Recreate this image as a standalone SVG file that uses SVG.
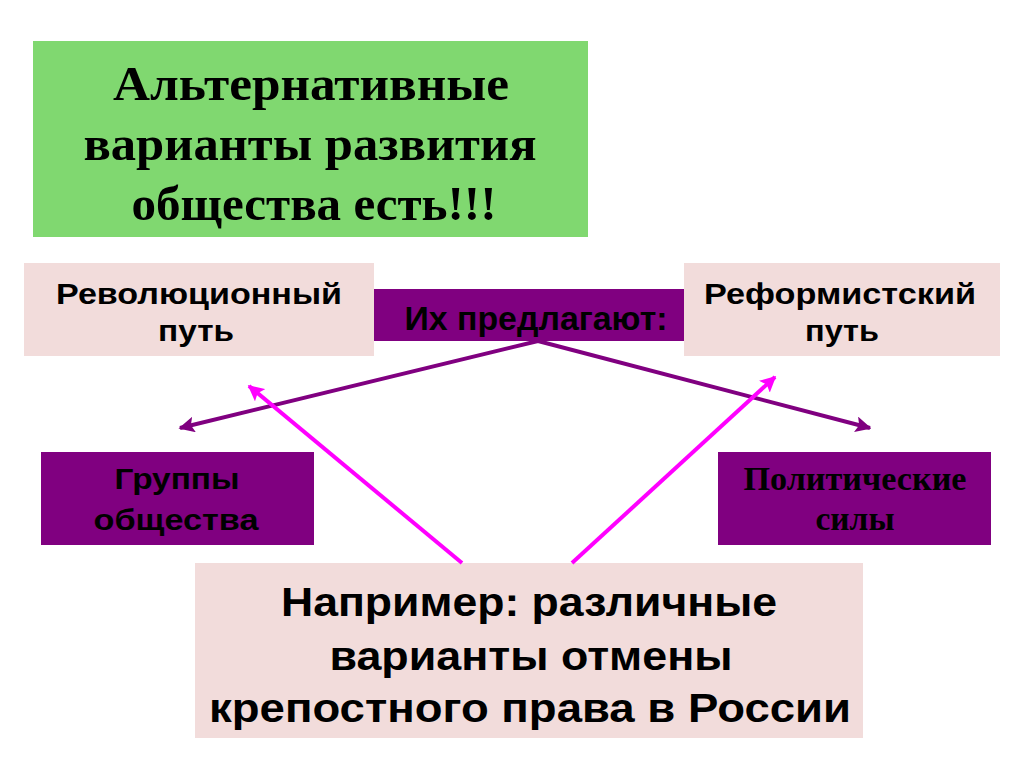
<svg xmlns="http://www.w3.org/2000/svg" width="1024" height="767" viewBox="0 0 1024 767">
<style>
.pink{fill:#F2DCDB}
.purp{fill:#800080}
.sans{font-family:"Liberation Sans",Arial,sans-serif;font-weight:bold;fill:#000;text-anchor:middle}
.serif{font-family:"Liberation Serif","Times New Roman",serif;font-weight:bold;fill:#000;text-anchor:middle}
.c1{stroke:#800080;stroke-width:4;fill:none}
.c2{stroke:#FF00FF;stroke-width:4;fill:none}
</style>
<defs>
<marker id="ap" viewBox="0 0 10 10" refX="9" refY="5" markerWidth="4" markerHeight="4" orient="auto" markerUnits="strokeWidth"><path d="M0,0 L10,5 L0,10 L2,5 Z" fill="#800080"/></marker>
<marker id="am" viewBox="0 0 10 10" refX="9" refY="5" markerWidth="4" markerHeight="4" orient="auto" markerUnits="strokeWidth"><path d="M0,0 L10,5 L0,10 L2,5 Z" fill="#FF00FF"/></marker>
</defs>
<rect width="1024" height="767" fill="#fff"/>
<g id="title">
<rect x="33" y="41" width="555" height="196" fill="#80D870"/>
<text class="serif" font-size="48" x="311" y="100" textLength="396" lengthAdjust="spacingAndGlyphs">Альтернативные</text>
<text class="serif" font-size="48" x="310" y="160" textLength="453" lengthAdjust="spacingAndGlyphs">варианты развития</text>
<text class="serif" font-size="48" x="314" y="220" textLength="365" lengthAdjust="spacingAndGlyphs">общества есть!!!</text>
</g>
<g id="revolution">
<rect class="pink" x="24" y="263" width="350" height="93"/>
<text class="sans" font-size="30" x="199" y="304" textLength="286" lengthAdjust="spacingAndGlyphs">Революционный</text>
<text class="sans" font-size="30" x="196" y="341" textLength="76" lengthAdjust="spacingAndGlyphs">путь</text>
</g>
<g id="reform">
<rect class="pink" x="684" y="263" width="316" height="93"/>
<text class="sans" font-size="30" x="840" y="304" textLength="272" lengthAdjust="spacingAndGlyphs">Реформистский</text>
<text class="sans" font-size="30" x="842" y="341" textLength="74" lengthAdjust="spacingAndGlyphs">путь</text>
</g>
<g id="propose">
<rect class="purp" x="374" y="289" width="310" height="52"/>
<text class="sans" font-size="33" x="536" y="330" textLength="263" lengthAdjust="spacingAndGlyphs">Их предлагают:</text>
</g>
<g id="groups">
<rect class="purp" x="41" y="452" width="273" height="93"/>
<text class="sans" font-size="30" x="177" y="489" textLength="125" lengthAdjust="spacingAndGlyphs">Группы</text>
<text class="sans" font-size="30" x="176" y="530" textLength="165" lengthAdjust="spacingAndGlyphs">общества</text>
</g>
<g id="political">
<rect class="purp" x="718" y="452" width="273" height="93"/>
<text class="serif" font-size="33" x="855" y="490" textLength="223" lengthAdjust="spacingAndGlyphs">Политические</text>
<text class="serif" font-size="33" x="855" y="530" textLength="79" lengthAdjust="spacingAndGlyphs">силы</text>
</g>
<g id="example">
<rect class="pink" x="195" y="563" width="668" height="175"/>
<text class="sans" font-size="41" x="529" y="616" textLength="496" lengthAdjust="spacingAndGlyphs">Например: различные</text>
<text class="sans" font-size="41" x="531" y="670" textLength="403" lengthAdjust="spacingAndGlyphs">варианты отмены</text>
<text class="sans" font-size="41" x="530" y="722" textLength="642" lengthAdjust="spacingAndGlyphs">крепостного права в России</text>
</g>
<g id="connectors">
<line class="c1" x1="538" y1="341" x2="180" y2="428" marker-end="url(#ap)"/>
<line class="c1" x1="538" y1="341" x2="870" y2="428" marker-end="url(#ap)"/>
<line class="c2" x1="462" y1="563" x2="249" y2="386" marker-end="url(#am)"/>
<line class="c2" x1="572" y1="563" x2="775" y2="377" marker-end="url(#am)"/>
</g>
</svg>
